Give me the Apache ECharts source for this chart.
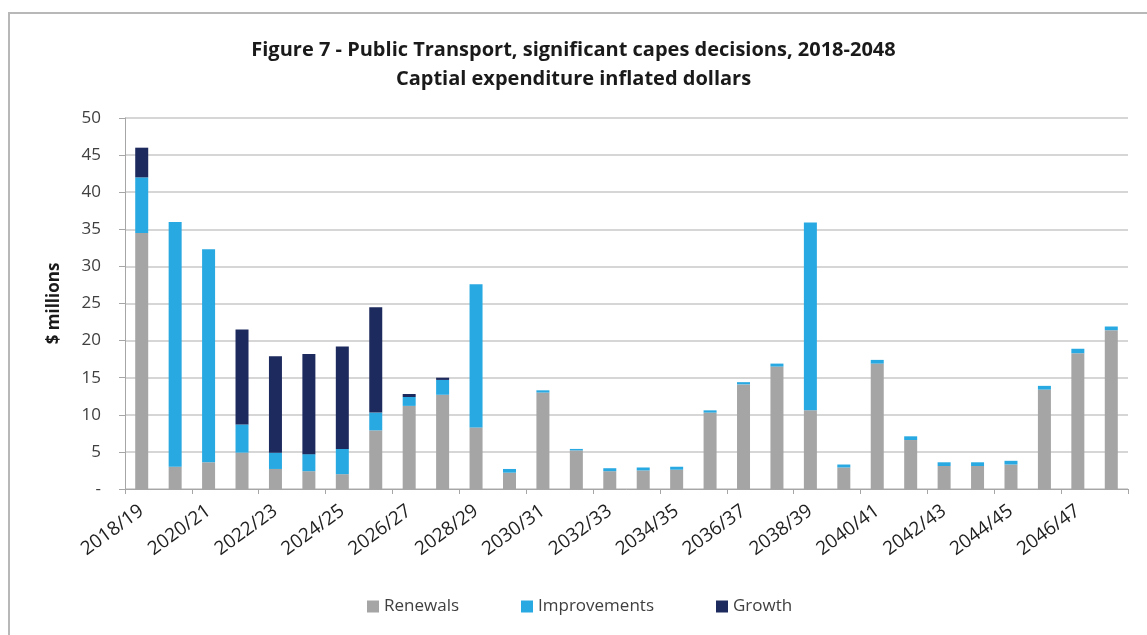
<!DOCTYPE html>
<html>
<head>
<meta charset="utf-8">
<style>
  html, body { margin: 0; padding: 0; background: #fff; }
  #frame { position: absolute; left: 8px; top: 12px; width: 1200px; height: 700px;
           border-top: 2px solid #b8b8b8; border-left: 2px solid #b8b8b8; }
  #chart { position: absolute; left: 0; top: 0; width: 1147px; height: 635px; }
</style>
<script src="https://cdn.jsdelivr.net/npm/echarts@6/dist/echarts.min.js"></script>
</head>
<body>
<div id="frame"></div>
<div id="chart"></div>
<script>
// Financial years 2018/19 .. 2047/48
const years = [
  '2018/19','2019/20','2020/21','2021/22','2022/23','2023/24','2024/25','2025/26',
  '2026/27','2027/28','2028/29','2029/30','2030/31','2031/32','2032/33','2033/34',
  '2034/35','2035/36','2036/37','2037/38','2038/39','2039/40','2040/41','2041/42',
  '2042/43','2043/44','2044/45','2045/46','2046/47','2047/48'
];

// $ millions per year, stacked
const renewals = [
  34.5, 3.0, 3.6, 4.9, 2.7, 2.4, 2.0, 7.9,
  11.2, 12.7, 8.3, 2.2, 13.0, 5.2, 2.4, 2.5,
  2.6, 10.3, 14.1, 16.5, 10.6, 2.9, 16.9, 6.6,
  3.1, 3.1, 3.3, 13.4, 18.3, 21.4
];
const improvements = [
  7.5, 33.0, 28.7, 3.8, 2.2, 2.3, 3.4, 2.4,
  1.2, 2.0, 19.3, 0.5, 0.3, 0.2, 0.4, 0.4,
  0.4, 0.3, 0.3, 0.4, 25.3, 0.4, 0.5, 0.5,
  0.5, 0.5, 0.5, 0.5, 0.6, 0.5
];
const growth = [
  4.0, 0, 0, 12.8, 13.0, 13.5, 13.8, 14.2,
  0.4, 0.3, 0, 0, 0, 0, 0, 0,
  0, 0, 0, 0, 0, 0, 0, 0,
  0, 0, 0, 0, 0, 0
];

const seriesNames = ['Renewals', 'Improvements', 'Growth'];
const seriesColors = ['#a5a5a5', '#29a9e1', '#1d2a5e'];
const seriesData = [renewals, improvements, growth];

const font = '"Open Sans", "Noto Sans", sans-serif';
const chart = echarts.init(document.getElementById('chart'));

chart.setOption({
  animation: false,
  textStyle: { fontFamily: font },
  title: {
    text: 'Figure 7 - Public Transport, significant capes decisions, 2018-2048\nCaptial expenditure inflated dollars',
    left: 'center',
    top: 31,
    textStyle: { fontFamily: font, fontSize: 20, fontWeight: 'bold', color: '#1a1a1a', lineHeight: 29 }
  },
  legend: {
    bottom: 15,
    left: 362,
    itemWidth: 12,
    itemHeight: 12,
    itemGap: 62,
    icon: 'rect',
    textStyle: { fontFamily: font, fontSize: 17, color: '#404040' },
    data: seriesNames
  },
  grid: { left: 125, right: 19, top: 118, bottom: 146 },
  xAxis: {
    type: 'category',
    data: years,
    axisLine: { lineStyle: { color: '#a6a6a6', width: 1 } },
    axisTick: { show: true, length: 5, lineStyle: { color: '#a6a6a6' } },
    axisLabel: {
      interval: 1,
      rotate: 36,
      margin: 20,
      fontFamily: font,
      fontSize: 19,
      color: '#1f1f1f'
    }
  },
  yAxis: {
    type: 'value',
    min: 0,
    max: 50,
    interval: 5,
    name: '$ millions',
    nameLocation: 'middle',
    nameGap: 62,
    nameRotate: 90,
    nameTextStyle: { fontFamily: font, fontSize: 17, fontWeight: 'bold', color: '#1a1a1a' },
    axisLine: { show: true, lineStyle: { color: '#a6a6a6' } },
    axisTick: { show: true, length: 6, lineStyle: { color: '#a6a6a6' } },
    splitLine: { lineStyle: { color: '#c8c8c8', width: 1.5 } },
    axisLabel: {
      margin: 24,
      fontFamily: font,
      fontSize: 17,
      color: '#404040',
      formatter: v => (v === 0 ? '-' : String(v))
    }
  },
  series: seriesNames.map((name, i) => ({
    name,
    type: 'bar',
    stack: 'total',
    barWidth: 13,
    itemStyle: { color: seriesColors[i] },
    data: seriesData[i]
  }))
});
</script>
</body>
</html>
